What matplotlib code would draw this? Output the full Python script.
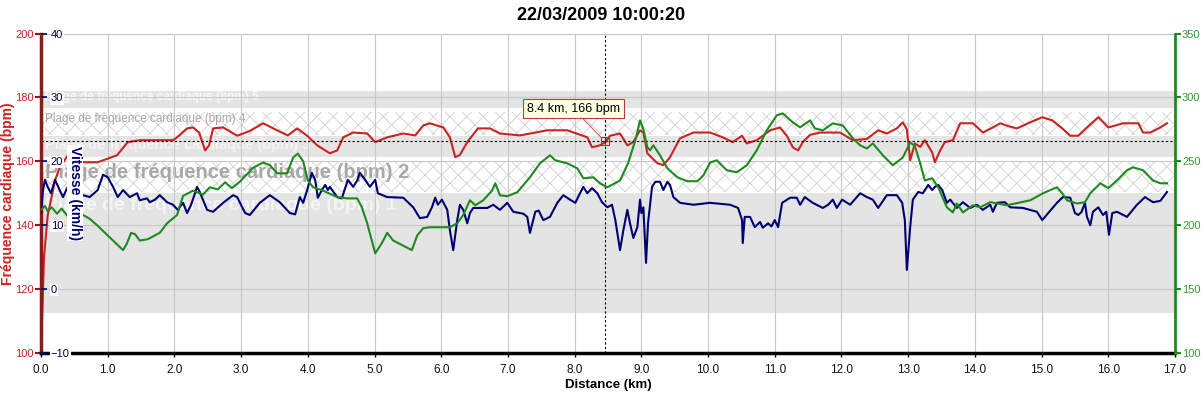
import matplotlib.pyplot as plt

plt.rcParams['font.family'] = ['Liberation Sans', 'DejaVu Sans']
plt.rcParams['hatch.linewidth'] = 0.6

# --- données ---
hr_km = [0.00, 0.015, 0.045, 0.10, 0.21, 0.28, 0.43, 0.63, 0.85, 1.14, 1.30, 1.48, 1.98, 2.04, 2.19,
         2.28, 2.37, 2.46, 2.52, 2.58, 2.73, 2.94, 3.13, 3.33, 3.54, 3.70, 3.84, 3.99, 4.14, 4.33,
         4.44, 4.53, 4.68, 4.89, 5.01, 5.19, 5.43, 5.61, 5.73, 5.83, 6.03, 6.13, 6.21, 6.28, 6.39,
         6.55, 6.73, 6.88, 7.18, 7.59, 7.89, 8.19, 8.26, 8.38, 8.46, 8.53, 8.68, 8.79, 8.88, 8.98,
         9.03, 9.09, 9.24, 9.33, 9.43, 9.58, 9.78, 10.03, 10.22, 10.37, 10.51, 10.58, 10.73, 10.93,
         11.08, 11.18, 11.27, 11.35, 11.42, 11.53, 11.68, 11.98, 12.17, 12.38, 12.55, 12.68, 12.83,
         12.92, 12.98, 13.03, 13.10, 13.18, 13.25, 13.36, 13.40, 13.48, 13.55, 13.67, 13.78, 13.97,
         14.12, 14.27, 14.38, 14.50, 14.63, 14.83, 15.01, 15.16, 15.31, 15.43, 15.55, 15.68, 15.85,
         16.00, 16.22, 16.45, 16.52, 16.63, 16.78, 16.88]
hr_bpm = [100, 110, 130, 143, 154, 158, 162.8, 159.7, 159.7, 161.9, 166, 166.6, 166.6, 167.5, 170.3,
          170.6, 169, 163.4, 165, 170.3, 170.6, 168, 169.5, 171.9, 169.7, 168.1, 170.3, 168, 165, 162.5,
          163.4, 167.5, 169, 168.7, 166, 167.5, 168.7, 168.1, 171.2, 171.9, 170.6, 167.5, 161.3, 162, 166,
          170.3, 170.3, 168.7, 168.1, 169.7, 169.7, 167.5, 164.4, 165, 166, 168, 168.7, 165, 166, 169.7,
          169, 162.5, 159.4, 158.8, 161.3, 167.2, 169, 169, 167.5, 166, 168, 165.6, 166.6, 169.7,
          170.6, 168, 164.4, 163.4, 166, 168.3, 169, 169, 166.6, 167, 169.7, 168.7, 170.3,
          172.2, 170, 160.3, 165.6, 164.5, 166.6, 162.8, 159.7, 163.4, 166, 166.6, 171.9, 171.9,
          169, 170.6, 171.9, 171, 170.3, 172.2, 173.8, 172.8, 170.3, 168, 168, 170.6, 173.8,
          170.6, 171.9, 171.9, 169, 169, 170.6, 171.9]

speed_km = [0.00, 0.03, 0.06, 0.10, 0.15, 0.21, 0.28, 0.33, 0.39, 0.48, 0.54, 0.63, 0.73, 0.85, 0.93,
            1.00, 1.08, 1.15, 1.23, 1.33, 1.44, 1.48, 1.59, 1.63, 1.71, 1.78, 1.89, 1.98, 2.05, 2.13,
            2.19, 2.25, 2.34, 2.38, 2.49, 2.58, 2.73, 2.88, 2.94, 3.06, 3.13, 3.28, 3.43, 3.58, 3.73,
            3.81, 3.88, 3.93, 3.99, 4.06, 4.11, 4.15, 4.21, 4.26, 4.30, 4.33, 4.44, 4.51, 4.60, 4.68,
            4.74, 4.78, 4.86, 4.93, 5.01, 5.05, 5.19, 5.43, 5.58, 5.68, 5.79, 5.86, 5.91, 5.95, 6.01,
            6.09, 6.13, 6.18, 6.24, 6.28, 6.33, 6.39, 6.43, 6.48, 6.69, 6.78, 6.88, 6.99, 7.08, 7.23,
            7.29, 7.33, 7.41, 7.46, 7.53, 7.63, 7.74, 7.83, 7.93, 8.01, 8.08, 8.13, 8.19, 8.26, 8.34,
            8.41, 8.49, 8.56, 8.61, 8.68, 8.73, 8.79, 8.83, 8.88, 8.94, 8.98, 9.00, 9.03, 9.07, 9.10,
            9.16, 9.21, 9.28, 9.33, 9.39, 9.43, 9.48, 9.58, 9.78, 10.03, 10.33, 10.45, 10.51, 10.52,
            10.55, 10.63, 10.70, 10.78, 10.82, 10.90, 10.95, 11.00, 11.05, 11.11, 11.23, 11.33, 11.38,
            11.45, 11.57, 11.72, 11.80, 11.87, 11.93, 12.01, 12.13, 12.28, 12.38, 12.47, 12.55, 12.68,
            12.83, 12.91, 12.95, 12.98, 13.03, 13.07, 13.15, 13.22, 13.30, 13.36, 13.40, 13.45, 13.51,
            13.58, 13.63, 13.73, 13.82, 13.93, 14.03, 14.12, 14.23, 14.27, 14.33, 14.45, 14.53, 14.72,
            14.93, 15.01, 15.10, 15.23, 15.32, 15.43, 15.50, 15.55, 15.60, 15.65, 15.68, 15.73, 15.77,
            15.85, 15.92, 15.97, 16.01, 16.06, 16.13, 16.28, 16.43, 16.55, 16.67, 16.78, 16.88]
speed_kmh = [12, 15.5, 17.1, 16, 15, 17.1, 15.5, 14.4, 15.8, 16.6, 15.5, 14.7, 14.4, 15.5, 17.9,
             17.5, 16, 14.4, 15.5, 14.4, 15, 13.9, 14.2, 13.6, 14, 14.7, 13.6, 13.2, 12.4, 13.5,
             11.9, 13.2, 16, 15.2, 12.4, 12.1, 13.5, 14.7, 14.4, 11.9, 11.6, 13.5, 14.7, 13.6, 11.9,
             11.7, 14.4, 13.5, 15.5, 18.2, 17.1, 14.3, 15.5, 16.3, 15.5, 16, 14.4, 14.2, 17.1, 16,
             17, 18.2, 17.1, 16, 17.1, 15, 14.4, 14.3, 12.8, 11.1, 11.3, 12.8, 14.3, 13.2, 14,
             12.4, 9.2, 6.1, 10.8, 13.2, 12.4, 10.3, 11.9, 12.7, 12.7, 13.2, 12.4, 13.5, 12.1, 11.8,
             11.3, 8.8, 12.1, 12.3, 10.8, 11.3, 13.5, 14.7, 14, 13.5, 15, 16, 15, 15.8, 15,
             13.6, 12.8, 13.2, 10.8, 6.1, 9.2, 12.4, 10.3, 8, 9.7, 14, 11.9, 12.8, 4.1, 10.3,
             16, 16.8, 16.8, 15.5, 16.8, 16.3, 14.4, 13.5, 13.2, 13.5, 13.2, 12.7, 10.8, 7.2,
             11.3, 11.3, 9.7, 10.5, 9.6, 10.3, 9.8, 10.8, 9.7, 13.5, 14.3, 14.3, 13.2,
             14.4, 13.5, 12.7, 13.2, 14, 12.7, 14, 13.2, 15, 14.4, 14, 12.7, 14.7,
             14.7, 13.5, 10.8, 3, 9.7, 14, 15.2, 15, 16.3, 15.5, 16, 16.3, 15.5,
             13.5, 14, 12.7, 13.6, 12.7, 13.2, 12.4, 13.2, 12.1, 13.5, 13.6, 12.8, 12.7,
             12.1, 10.8, 11.9, 13.5, 14.4, 14.3, 11.9, 11.6, 12.1, 13.5, 11.3, 10, 12.1,
             12.8, 11.6, 12.1, 8.5, 11.9, 12.1, 11.3, 13.2, 14.4, 13.6, 13.8, 15.2]

alt_km = [0.00, 0.06, 0.10, 0.16, 0.24, 0.31, 0.40, 0.48, 0.63, 0.73, 0.84, 0.96, 1.08, 1.23, 1.29,
          1.35, 1.41, 1.48, 1.60, 1.78, 1.89, 2.04, 2.13, 2.28, 2.43, 2.53, 2.65, 2.76, 2.86, 2.98,
          3.18, 3.33, 3.43, 3.54, 3.69, 3.78, 3.85, 3.93, 4.00, 4.08, 4.23, 4.44, 4.59, 4.74, 4.81,
          4.89, 5.01, 5.11, 5.19, 5.28, 5.43, 5.56, 5.64, 5.73, 5.83, 6.13, 6.24, 6.33, 6.43, 6.51,
          6.63, 6.76, 6.81, 6.88, 6.99, 7.14, 7.33, 7.48, 7.63, 7.71, 7.89, 8.04, 8.13, 8.28, 8.38,
          8.49, 8.68, 8.80, 8.91, 8.98, 9.03, 9.09, 9.13, 9.18, 9.28, 9.39, 9.54, 9.69, 9.84, 9.93,
          10.03, 10.13, 10.28, 10.43, 10.58, 10.73, 10.88, 11.03, 11.12, 11.27, 11.38, 11.53, 11.60,
          11.72, 11.87, 12.02, 12.17, 12.28, 12.38, 12.47, 12.62, 12.77, 12.92, 13.03, 13.10, 13.18,
          13.25, 13.36, 13.45, 13.58, 13.67, 13.73, 13.82, 13.97, 14.08, 14.23, 14.48, 14.83, 15.02,
          15.23, 15.31, 15.38, 15.53, 15.65, 15.73, 15.88, 16.00, 16.13, 16.28, 16.37, 16.52, 16.67,
          16.78, 16.88]
alt_m = [212, 215, 211, 214, 209, 213, 207, 206, 208, 205, 200, 194, 188, 180.5, 186,
         194, 193, 188, 189, 194, 201.5, 208, 223, 227, 224, 229.7, 228, 233.6, 229, 234,
         245, 249, 247, 240.6, 240.6, 253, 256, 250, 235, 229.7, 227, 222, 221, 221, 214,
         201.5, 178, 186, 194, 188, 184, 180.5, 192, 197.7, 198.4, 198.4, 201.5, 208, 219.5, 215.6,
         219.5, 227, 232.8, 223.4, 222.7, 225.8, 237.5, 248.4, 254.7, 250.8, 248.4, 244.5, 236.7, 237.5, 232.8,
         229.7, 235, 248.4, 266.4, 282, 275, 261, 258.6, 262.5, 254.7, 244.5, 237.5, 234.4, 234.4, 239,
         249, 250.8, 243, 241.4, 246.9, 258.6, 274.2, 286, 287.5, 280.5, 276.6, 282, 275.8,
         274.2, 279.7, 278, 268, 262.5, 260, 264, 254.7, 246.9, 253, 264.8, 262, 248.4,
         235, 236.7, 229.7, 214, 210, 217, 210, 215.6, 214, 218, 215.6, 219.5, 225,
         229.7, 225, 219.5, 217, 218, 225, 232.8, 229, 235, 243, 245.3, 243, 235,
         232.8, 232.8]

zone_names = ['Plage de fréquence cardiaque (bpm) %d' % i for i in range(1, 6)]
zone_low = [112.5, 150.3, 161.5, 168.3, 176.7]
zone_high = [150.0, 160.2, 167.8, 175.3, 182.0]

cursor_km, cursor_hr = 8.45, 166.3
cursor_text = '8.4 km, 166 bpm'
title = '22/03/2009 10:00:20'

RED = '#cc2222'
NAVY = '#000070'
GREEN = '#1e8a1e'

W, H = 1202, 395
fig = plt.figure(figsize=(W / 100, H / 100), dpi=100)
ax = fig.add_axes([41 / W, 1 - 353 / H, (1175 - 41) / W, (353 - 33.5) / H])

# plages de fréquence cardiaque
zone_hatched = [False, True, False, True, False]
zone_txt_color = ['#f4f4f4', '#a8a8a8', '#f4f4f4', '#a8a8a8', '#f8f8f8']
zone_txt_size = [14, 14.5, 10.5, 8.5, 8.5]
zone_txt_weight = ['bold', 'bold', 'bold', 'normal', 'bold']
zone_txt_y = [146.3, 156.6, 165.0, 173.2, 180.0]
for i in range(5):
    if zone_hatched[i]:
        ax.axhspan(zone_low[i], zone_high[i], facecolor='white', edgecolor='#cfcfcf',
                   hatch='xx', linewidth=0, zorder=1)
    else:
        ax.axhspan(zone_low[i], zone_high[i], facecolor='#e4e4e4', linewidth=0, zorder=1)
    ax.text(0.06, zone_txt_y[i], zone_names[i], color=zone_txt_color[i],
            fontsize=zone_txt_size[i], fontweight=zone_txt_weight[i],
            va='center', ha='left', zorder=1.2, clip_on=True)

ax.plot(hr_km, hr_bpm, color=RED, lw=1.5, zorder=2)

ax.set_xlim(0, 17)
ax.set_ylim(100, 200)
ax.set_xticks(range(0, 18))
ax.set_xticklabels(['%.1f' % v for v in range(0, 18)])
ax.set_yticks(range(100, 201, 20))
ax.grid(True, color='#c8c8c8', lw=0.8)
ax.tick_params(axis='x', labelsize=8.5, length=3, width=1, pad=5, labelcolor='#111111')
ax.tick_params(axis='y', direction='out', length=4, width=1.5, color='#8b1a1a',
               labelcolor=RED, labelsize=8, pad=1)
ax.spines['left'].set_color('#8b1a1a')
ax.spines['left'].set_linewidth(2.5)
ax.spines['bottom'].set_linewidth(2.5)
ax.spines['top'].set_color('#c8c8c8')
ax.spines['top'].set_linewidth(0.8)
ax.spines['right'].set_visible(False)
ax.set_xlabel('Distance (km)', fontsize=9.5, fontweight='bold', labelpad=2)

# curseur et bulle
ax.axvline(cursor_km, color='black', lw=0.8, ls=(0, (2, 2)), zorder=2.5)
ax.axhline(cursor_hr, color='black', lw=0.8, ls=(0, (2, 2)), zorder=2.5)
ax.plot(cursor_km, cursor_hr, marker='s', ms=6, mfc='none', mec='#b03030', mew=0.8, zorder=3)
ax.plot(cursor_km, cursor_hr, marker='+', ms=5, color='#333333', mew=0.8, zorder=3)
ax.annotate(cursor_text, xy=(cursor_km, cursor_hr), xytext=(7.98, 176.5),
            ha='center', va='center', fontsize=9,
            bbox=dict(boxstyle='square,pad=0.3', fc='#ffffe1', ec='#b04040', lw=0.8),
            arrowprops=dict(arrowstyle='-', color='#b04040', lw=0.6, shrinkA=0, shrinkB=3),
            zorder=4)

# vitesse (axe intérieur gauche)
ax_s = ax.twinx()
ax_s.yaxis.set_ticks_position('left')
ax_s.set_ylim(-10, 40)
ax_s.set_yticks(range(-10, 41, 10))
ax_s.tick_params(axis='y', direction='in', length=4, width=1.2, color=NAVY,
                 labelcolor='#000040', labelsize=8, pad=-7)
for lab in ax_s.get_yticklabels():
    lab.set_horizontalalignment('left')
    lab.set_bbox(dict(facecolor='white', edgecolor='none', pad=0.8))
for s in ax_s.spines.values():
    s.set_visible(False)
ax_s.plot(speed_km, speed_kmh, color=NAVY, lw=1.5)

# altitude (axe droit)
ax_g = ax.twinx()
ax_g.set_ylim(100, 350)
ax_g.set_yticks(range(100, 351, 50))
ax_g.tick_params(axis='y', direction='out', length=4, width=1.5, color=GREEN,
                 labelcolor='#3c963c', labelsize=8, pad=1)
for k in ['left', 'top', 'bottom']:
    ax_g.spines[k].set_visible(False)
ax_g.spines['right'].set_color(GREEN)
ax_g.spines['right'].set_linewidth(2)
ax_g.plot(alt_km, alt_m, color=GREEN, lw=1.5)

fig.text(0.5, 1 - 16 / H, title, ha='center', va='center', fontsize=13, fontweight='bold')
fig.text(8 / W, 1 - 194 / H, 'Fréquence cardiaque (bpm)', rotation=90, ha='center',
         va='center', fontsize=10, fontweight='bold', color=RED)
fig.text(75 / W, 1 - 193 / H, 'Vitesse (km/h)', rotation=-90, ha='center', va='center',
         fontsize=10, fontweight='bold', color=NAVY,
         bbox=dict(facecolor='white', edgecolor='none', pad=1))

fig.savefig('out.png', dpi=100)
